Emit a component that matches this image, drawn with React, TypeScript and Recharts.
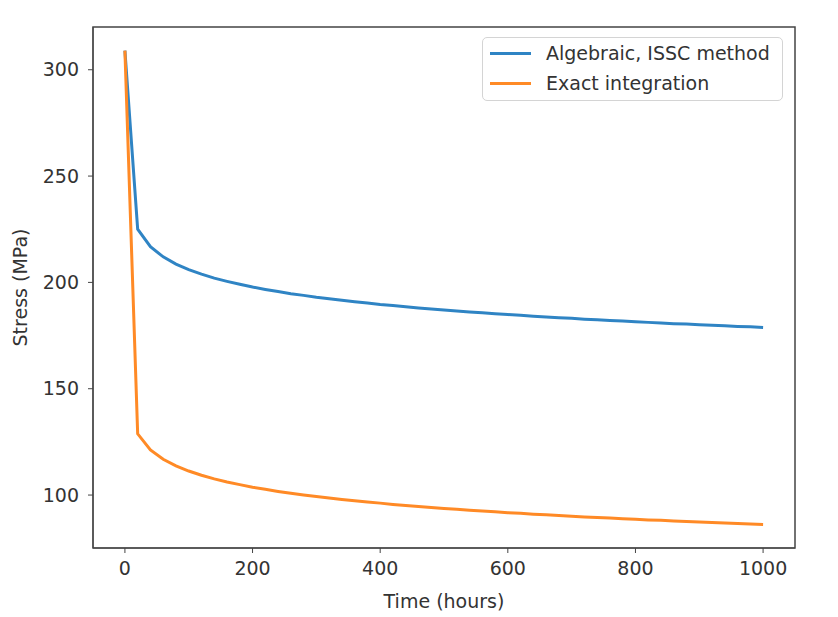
import { LineChart, Line, XAxis, YAxis, Legend, ReferenceArea } from 'recharts'

// hours, every 20 h from 0 to 1000
const hours = [
  0, 20, 40, 60, 80, 100, 120, 140, 160, 180, 200,
  220, 240, 260, 280, 300, 320, 340, 360, 380, 400,
  420, 440, 460, 480, 500, 520, 540, 560, 580, 600,
  620, 640, 660, 680, 700, 720, 740, 760, 780, 800,
  820, 840, 860, 880, 900, 920, 940, 960, 980, 1000,
]

const algebraic = [
  309.0, 225.0, 216.8, 212.0, 208.6, 206.0, 203.9, 202.0, 200.5, 199.1, 197.8,
  196.7, 195.7, 194.7, 193.9, 193.0, 192.3, 191.6, 190.9, 190.3, 189.6,
  189.1, 188.5, 188.0, 187.5, 187.0, 186.6, 186.1, 185.7, 185.3, 184.9,
  184.5, 184.1, 183.7, 183.4, 183.1, 182.7, 182.4, 182.1, 181.8, 181.5,
  181.2, 180.9, 180.6, 180.4, 180.1, 179.8, 179.6, 179.3, 179.1, 178.8,
]

const exact = [
  309.0, 128.8, 121.2, 116.8, 113.7, 111.3, 109.3, 107.6, 106.1, 104.9, 103.7,
  102.7, 101.7, 100.8, 100.0, 99.3, 98.6, 97.9, 97.3, 96.7, 96.2,
  95.6, 95.1, 94.6, 94.2, 93.7, 93.3, 92.9, 92.5, 92.1, 91.7,
  91.4, 91.0, 90.7, 90.4, 90.0, 89.7, 89.4, 89.2, 88.9, 88.6,
  88.3, 88.1, 87.8, 87.6, 87.3, 87.1, 86.8, 86.6, 86.4, 86.2,
]

const xTicks = [0, 200, 400, 600, 800, 1000]
const yTicks = [100, 150, 200, 250, 300]

const seriesNames = ['Algebraic, ISSC method', 'Exact integration']
const seriesColors = ['#2f84c4', '#ff8a26']

const data = hours.map((t, i) => ({ t, algebraic: algebraic[i], exact: exact[i] }))

const FONT = 'DejaVu Sans, sans-serif'
const TEXT = '#333'

function LegendBox() {
  return (
    <div
      style={{
        border: '1px solid #d4d4d4',
        borderRadius: 5,
        background: '#fff',
        padding: '0 0 0 7px',
        boxSizing: 'border-box',
        height: '100%',
        fontFamily: FONT,
        fontSize: 19,
        color: TEXT,
      }}
    >
      {seriesNames.map((name, i) => (
        <div key={name} style={{ display: 'flex', alignItems: 'center', height: 30 }}>
          <span style={{ display: 'inline-block', width: 41, height: 3, background: seriesColors[i], marginRight: 15 }} />
          <span>{name}</span>
        </div>
      ))}
    </div>
  )
}

export default function App() {
  return (
    <div style={{ position: 'absolute', left: 0, top: 0 }}>
      <LineChart width={838} height={617} data={data} margin={{ top: 27, right: 43, left: 0, bottom: 0 }}>
        <XAxis
          dataKey="t"
          type="number"
          domain={[-50, 1050]}
          ticks={xTicks}
          height={69}
          tickSize={5}
          tickMargin={9}
          stroke="#444"
          tick={{ fill: TEXT, fontSize: 19, fontFamily: FONT }}
          label={(props: any) => {
            const vb = props.viewBox
            return (
              <text x={vb.x + vb.width / 2} y={608} textAnchor="middle" fill={TEXT} fontSize={19} fontFamily={FONT}>
                Time (hours)
              </text>
            )
          }}
        />
        <YAxis
          type="number"
          domain={[75.1, 320.1]}
          ticks={yTicks}
          width={93}
          tickSize={5}
          tickMargin={9}
          stroke="#444"
          tick={{ fill: TEXT, fontSize: 19, fontFamily: FONT }}
          label={(props: any) => {
            const vb = props.viewBox
            const cy = vb.y + vb.height / 2
            return (
              <text x={27} y={cy} transform={`rotate(-90, 27, ${cy})`} textAnchor="middle" fill={TEXT} fontSize={19} fontFamily={FONT}>
                Stress (MPa)
              </text>
            )
          }}
        />
        <ReferenceArea x1={-50} x2={1050} y1={75.1} y2={320.1} fill="none" stroke="#444" strokeWidth={1.5} ifOverflow="visible" />
        <Line dataKey="algebraic" name={seriesNames[0]} stroke={seriesColors[0]} strokeWidth={3} dot={false} isAnimationActive={false} />
        <Line dataKey="exact" name={seriesNames[1]} stroke={seriesColors[1]} strokeWidth={3} dot={false} isAnimationActive={false} />
        <Legend
          verticalAlign="middle"
          layout="horizontal"
          content={() => <LegendBox />}
          wrapperStyle={{ top: 37, left: 482, width: 301, height: 64 }}
        />
      </LineChart>
    </div>
  )
}
